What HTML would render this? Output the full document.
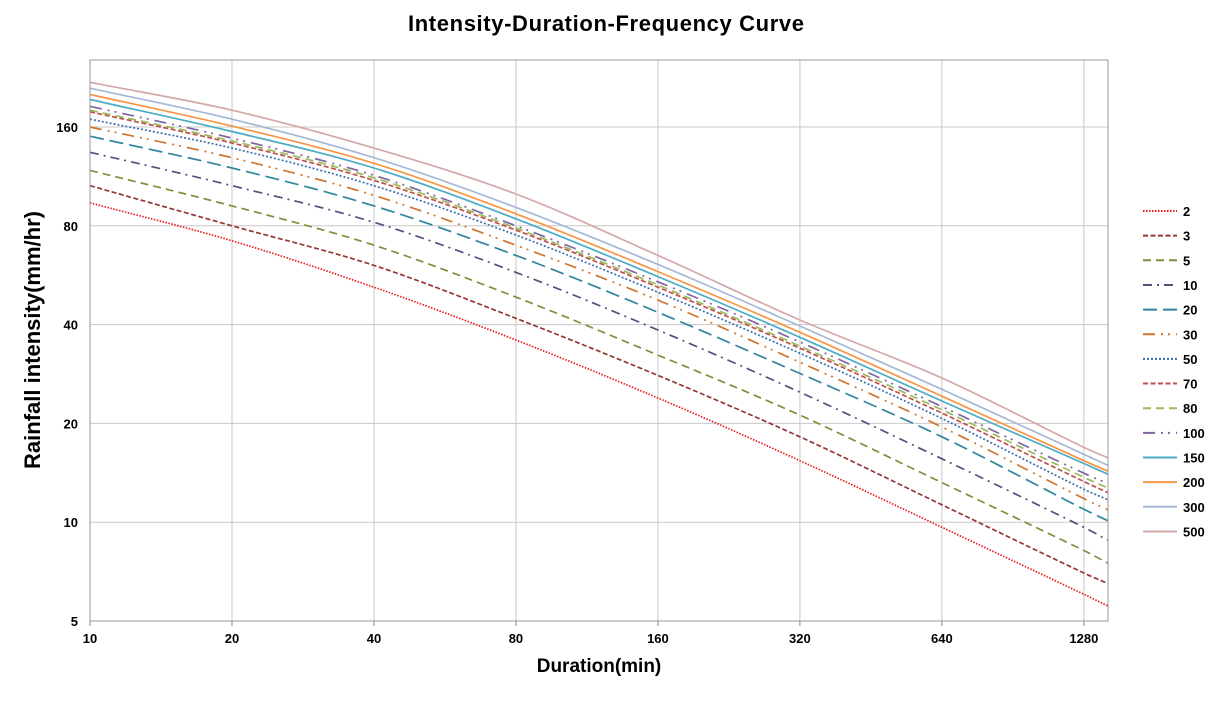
<!DOCTYPE html>
<html><head><meta charset="utf-8"><style>
body{margin:0;background:#fff;}
svg{font-family:"Liberation Sans",sans-serif;}
</style></head><body>
<svg id="chart" width="1214" height="697">
<text x="606" y="31" text-anchor="middle" font-size="22" font-weight="bold" textLength="396">Intensity-Duration-Frequency Curve</text>
<text x="599" y="672" text-anchor="middle" font-size="19" font-weight="bold">Duration(min)</text>
<text transform="translate(40,340) rotate(-90)" text-anchor="middle" font-size="22" font-weight="bold">Rainfall intensity(mm/hr)</text>
<g id="grid"></g><g id="series"></g><g id="axes"></g><g id="legend"></g>
</svg>
<script>
const durations=[10,20,40,80,160,320,640,1280,1440];
const xTicks=[10,20,40,80,160,320,640,1280];
const yTicks=[5,10,20,40,80,160];
const names=["2","3","5","10","20","30","50","70","80","100","150","200","300","500"];
const s2=[94,72,52,35.9,23.9,15.4,9.65,6.03,5.55];
const s3=[106,80,60.6,41.8,28,18.2,11.3,7.0,6.5];
const s5=[118,92,69.8,48.5,32.3,21.2,13.2,8.2,7.5];
const s10=[134,106,82,57.7,38.5,24.9,15.6,9.65,8.8];
const s20=[150,120,92,65,43.6,28.4,18.2,10.95,10.1];
const s30=[160,129,99,69.8,47.5,30.7,19.5,11.8,10.9];
const s50=[169,138,106,75,50.2,32.7,20.7,12.6,11.7];
const s70=[178,143,110,77.6,52,33.9,21.5,13.3,12.3];
const s80=[180,145,112,78.7,52.8,34.4,22,13.7,12.7];
const s100=[185,148,114,80,54,35.4,22.5,14.1,13.1];
const s150=[194,155,120,84,56,36.6,23.4,15.1,14.0];
const s200=[201,161,124,87,58,37.9,24.2,15.4,14.3];
const s300=[210,169,129,91,61,39.6,25.4,16.1,14.9];
const s500=[219,180,138,100,65,41.3,27.5,16.9,15.7];
const allSeries=[s2,s3,s5,s10,s20,s30,s50,s70,s80,s100,s150,s200,s300,s500];
const colors=["#e8191d","#953735","#77933c","#604a7b","#31859c","#d0742c","#3a6fb0","#c0504d","#9bbb59","#8064a2","#4bacc6","#f79646","#a5b8d6","#d4a8a8"];
const dashes=["1.5,1.5","5,2.5","8,5","9,5,2,5","14,6","12,6,2,5,2,6","2,2","5,2.5","8,5","12,6,2,5,2,6","","","",""];
const L=90,R=1108,T=60,B=621;
const xMin=10,xMax=1440,yMin=5,yMax=256;
function xs(v){return L+(Math.log(v/xMin)/Math.log(xMax/xMin))*(R-L);}
function ys(v){return B-(Math.log(v/yMin)/Math.log(yMax/yMin))*(B-T);}
const NS="http://www.w3.org/2000/svg";
function mk(t,a,p){const e=document.createElementNS(NS,t);for(const k in a)e.setAttribute(k,a[k]);p.appendChild(e);return e;}
function smooth(pts){
 let d='M'+pts[0][0].toFixed(1)+','+pts[0][1].toFixed(1);
 for(let i=0;i<pts.length-1;i++){
  const p0=pts[Math.max(0,i-1)],p1=pts[i],p2=pts[i+1],p3=pts[Math.min(pts.length-1,i+2)];
  const h=(p2[0]-p1[0]);
  const m1=(p2[1]-p0[1])/(p2[0]-p0[0]), m2=(p3[1]-p1[1])/(p3[0]-p1[0]);
  const c1=[p1[0]+h/3,p1[1]+m1*h/3], c2=[p2[0]-h/3,p2[1]-m2*h/3];
  d+=' C'+c1[0].toFixed(1)+','+c1[1].toFixed(1)+' '+c2[0].toFixed(1)+','+c2[1].toFixed(1)+' '+p2[0].toFixed(1)+','+p2[1].toFixed(1);
 }
 return d;
}
const grid=document.getElementById('grid'),axes=document.getElementById('axes'),ser=document.getElementById('series'),leg=document.getElementById('legend');
xTicks.forEach(t=>{const x=xs(t);
 const g=mk('line',{x1:x,x2:x,y1:T,y2:B,stroke:'#c8c8c8','stroke-width':1},grid);
 
 
 const tx=mk('text',{x:x,y:643,'text-anchor':'middle','font-size':13,'font-weight':'bold'},axes);tx.textContent=t;
 
 
 mk('line',{x1:x,x2:x,y1:B,y2:B+5,stroke:'#888'},axes);
});
yTicks.forEach(t=>{const y=ys(t);
 const g=mk('line',{x1:L,x2:R,y1:y,y2:y,stroke:'#c8c8c8','stroke-width':1},grid);
 
 
 const tx=mk('text',{x:78,y:y+5,'text-anchor':'end','font-size':13,'font-weight':'bold'},axes);tx.textContent=t;
 
 
});
mk('rect',{x:L,y:T,width:R-L,height:B-T,fill:'none',stroke:'#999'},axes);
allSeries.forEach((s,i)=>{
 const pts=s.map((v,j)=>[xs(durations[j]),ys(v)]);
 const p=mk('path',{d:smooth(pts),fill:'none',stroke:colors[i],'stroke-width':1.7},ser);
 if(dashes[i])p.setAttribute('stroke-dasharray',dashes[i]);
 
 
 const y=211+i*24.65;
 const g=mk('g',{},leg);
 
 
 const ln=mk('line',{x1:1143,x2:1177,y1:y,y2:y,stroke:colors[i],'stroke-width':2},g);
 if(dashes[i])ln.setAttribute('stroke-dasharray',dashes[i]);
 const tx=mk('text',{x:1183,y:y+5,'font-size':13,'font-weight':'bold'},g);tx.textContent=names[i];
});
</script>
</body></html>
